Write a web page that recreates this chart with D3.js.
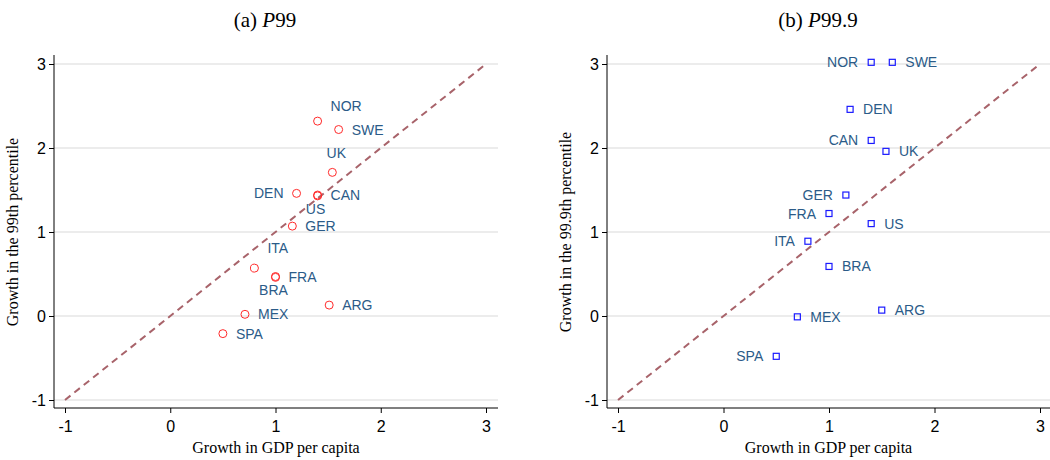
<!DOCTYPE html>
<html><head><meta charset="utf-8">
<script src="https://cdn.jsdelivr.net/npm/d3@7"></script>
<style>body{margin:0;background:#fff}</style></head>
<body><svg id="c" width="1050" height="460"></svg>
<script>
const countries = ["NOR","SWE","UK","DEN","CAN","US","GER","ITA","FRA","BRA","ARG","MEX","SPA"];
const gdpGrowth = [1.40,1.60,1.54,1.20,1.40,1.40,1.16,0.80,1.00,1.00,1.51,0.71,0.50];
const p99Growth = [2.32,2.22,1.71,1.46,1.44,1.43,1.07,0.57,0.46,0.47,0.13,0.02,-0.21];
const p99Labels = [1,3,12,9,3,6,3,1,3,6,3,3,3];
const gdpGrowthB = [1.40,1.60,1.54,1.20,1.40,1.40,1.16,0.80,1.00,1.00,1.50,0.70,0.50];
const p999Growth = [3.02,3.02,1.96,2.46,2.09,1.10,1.44,0.89,1.22,0.59,0.07,-0.01,-0.48];
const p999Labels = [9,3,3,3,9,3,9,9,9,3,3,3,9];
const ticks = [-1,0,1,2,3];

const svg = d3.select("#c");
function panel(o){
  const g = svg.append("g");
  const x = d3.scaleLinear().domain([-1,3]).range([o.x0,o.x1]);
  const y = d3.scaleLinear().domain([-1,3]).range([400,64]);
  ticks.forEach(t=>g.append("line").attr("x1",o.axL).attr("x2",o.right).attr("y1",y(t)).attr("y2",y(t)).attr("stroke","#e6e6e6").attr("stroke-width",1.3));
  g.append("line").attr("x1",x(-1)).attr("y1",y(-1)).attr("x2",x(3)).attr("y2",y(3)).attr("stroke","#a8636a").attr("stroke-width",2).attr("stroke-dasharray","7,5");
  const fmt = d=>String(d);
  g.append("g").attr("transform",`translate(0,408)`).call(d3.axisBottom(x).tickValues(ticks).tickSize(5).tickSizeOuter(0).tickFormat(fmt))
   .call(a=>{a.select(".domain").attr("d",`M${o.axL},0H${o.right}`);a.selectAll("text").attr("font-size",16).attr("font-family","Liberation Sans, Arial").attr("dy","1em");});
  g.append("g").attr("transform",`translate(${o.axL},0)`).call(d3.axisLeft(y).tickValues(ticks).tickSize(5).tickSizeOuter(0).tickFormat(fmt))
   .call(a=>{a.select(".domain").attr("d",`M0,${55}V408`);a.selectAll("text").attr("font-size",16).attr("font-family","Liberation Sans, Arial");});
  const off = {1:[13,-10,"start"],3:[13,5,"start"],9:[-13,5,"end"],12:[4,-14,"middle"],6:[-2,18,"middle"]};
  o.xs.forEach((xv,i)=>{
    const px=x(xv), py=y(o.ys[i]);
    if(o.circle) g.append("circle").attr("cx",px).attr("cy",py).attr("r",4).attr("fill","none").attr("stroke","#ff2a2a").attr("stroke-width",1);
    else g.append("rect").attr("x",px-3).attr("y",py-3).attr("width",6).attr("height",6).attr("fill","none").attr("stroke","#1a1aff").attr("stroke-width",1.2);
    let [dx,dy,an]=off[o.lab[i]];
    if(o.circle && countries[i]==="ITA") dy=-15;
    g.append("text").attr("x",px+dx).attr("y",py+dy).attr("text-anchor",an).attr("font-family","Liberation Sans, Arial").attr("font-size",14).attr("fill","#2b5b88").text(countries[i]);
  });
  g.append("text").attr("x",(o.axL+o.right)/2).attr("y",453).attr("text-anchor","middle").attr("font-family","Liberation Serif, serif").attr("font-size",16).text("Growth in GDP per capita");
  g.append("text").attr("transform",`translate(${o.axL-36},232) rotate(-90)`).attr("text-anchor","middle").attr("font-family","Liberation Serif, serif").attr("font-size",16).text(o.ytitle);
  const t=g.append("text").attr("x",o.tx).attr("y",27).attr("text-anchor","middle").attr("font-family","Liberation Serif, serif").attr("font-size",21);
  t.append("tspan").text(o.tA); t.append("tspan").attr("font-style","italic").text("P"); t.append("tspan").text(o.tB);
}
panel({x0:65,x1:486,axL:54,right:498,xs:gdpGrowth,ys:p99Growth,lab:p99Labels,circle:true,ytitle:"Growth in the 99th percentile",tx:265,tA:"(a)  ",tB:"99"});
panel({x0:618,x1:1040,axL:607,right:1050,xs:gdpGrowthB,ys:p999Growth,lab:p999Labels,circle:false,ytitle:"Growth in the 99.9th percentile",tx:818,tA:"(b)  ",tB:"99.9"});
</script></body></html>
